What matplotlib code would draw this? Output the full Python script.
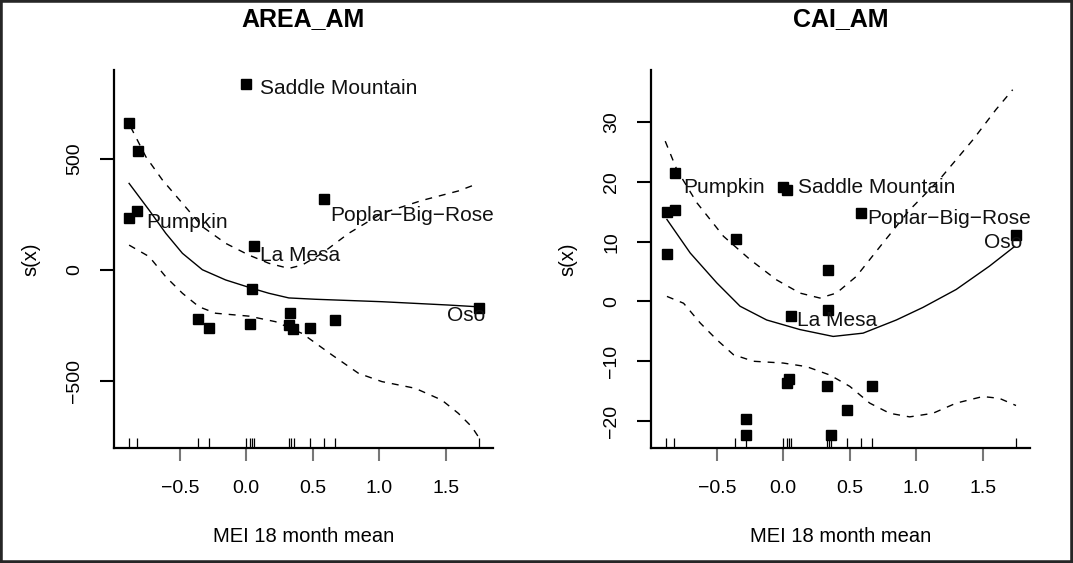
import numpy as np
import matplotlib
matplotlib.use("Agg")
import matplotlib.pyplot as plt
from matplotlib.patches import Rectangle

plt.rcParams['font.family'] = ['Liberation Sans', 'DejaVu Sans']

# rug: MEI 18 month mean of each site
mei_rug = [-0.881, -0.82, -0.363, -0.281, 0.0, 0.03, 0.045, 0.057,
           0.325, 0.34, 0.357, 0.477, 0.582, 0.665, 1.752]

# AREA_AM partial residuals
area_x = [-0.881, -0.815, -0.82, -0.88, 0.0, 0.057, 0.042, 0.027, -0.363,
          -0.28, 0.332, 0.325, 0.355, 0.477, 0.665, 0.585, 1.75]
area_y = [659, 535, 266, 231, 835, 107, -86, -246, -223,
          -264, -196, -248, -267, -261, -225, 317, -174]

# AREA_AM smooth and its confidence band
area_fit_x = [-0.881, -0.731, -0.605, -0.48, -0.33, -0.155, 0.045, 0.17,
              0.32, 0.52, 1.02, 1.52, 1.745]
area_fit_y = [389, 269, 164, 74, 0, -46, -84, -106,
              -127, -133, -144, -159, -167]
area_up_x = [-0.87, -0.755, -0.63, -0.48, -0.33, -0.155, 0.02, 0.17, 0.32,
             0.42, 0.57, 0.77, 1.02, 1.32, 1.595, 1.71]
area_up_y = [644, 509, 404, 299, 194, 119, 66, 29, 6,
             21, 74, 164, 254, 312, 355, 381]
area_lo_x = [-0.881, -0.73, -0.605, -0.48, -0.355, -0.23, 0.02, 0.22, 0.42,
             0.645, 0.845, 1.02, 1.27, 1.47, 1.595, 1.695, 1.745]
area_lo_y = [111, 59, -32, -106, -167, -196, -209, -234, -287,
             -384, -467, -504, -534, -587, -647, -707, -752]

# CAI_AM partial residuals
cai_x = [-0.875, -0.875, -0.813, -0.813, -0.358, -0.278, -0.278, -0.005, 0.03,
         0.055, 0.025, 0.042, 0.337, 0.337, 0.328, 0.355, 0.477, 0.67, 0.582, 1.75]
cai_y = [14.9, 8.0, 21.5, 15.3, 10.4, -19.6, -22.3, 19.2, 18.6,
         -2.4, -13.6, -12.9, 5.3, -1.5, -14.1, -22.3, -18.1, -14.1, 14.8, 11.1]

# CAI_AM smooth and its confidence band
cai_fit_x = [-0.875, -0.7, -0.5, -0.325, -0.125, 0.125, 0.375, 0.6,
             0.85, 1.05, 1.3, 1.55, 1.74]
cai_fit_y = [13.7, 8.1, 3.1, -0.8, -3.1, -4.7, -5.85, -5.3,
             -3.1, -1.0, 2.0, 5.9, 9.2]
cai_up_x = [-0.888, -0.8, -0.65, -0.45, -0.25, -0.05, 0.125, 0.275, 0.4,
            0.55, 0.75, 0.95, 1.175, 1.425, 1.6, 1.725]
cai_up_y = [26.8, 22.0, 16.5, 10.9, 7.0, 3.6, 1.4, 0.57, 1.4,
            4.2, 9.8, 15.3, 20.4, 27.0, 32.1, 35.4]
cai_lo_x = [-0.875, -0.75, -0.625, -0.5, -0.375, -0.225, 0.0, 0.175, 0.35,
            0.5, 0.65, 0.8, 0.95, 1.125, 1.3, 1.5, 1.625, 1.75]
cai_lo_y = [0.84, -0.3, -3.6, -6.4, -8.9, -10.0, -10.3, -10.9, -12.3,
            -14.2, -17.0, -18.7, -19.3, -18.7, -17.0, -15.9, -16.2, -17.4]

area_labels = ["Saddle Mountain", "Pumpkin", "La Mesa", "Poplar\u2212Big\u2212Rose", "Oso"]
area_lab_x = [0.107, -0.755, 0.102, 0.632, 1.508]
area_lab_y = [818, 213, 66, 246, -204]
cai_labels = ["Pumpkin", "Saddle Mountain", "Poplar\u2212Big\u2212Rose", "Oso", "La Mesa"]
cai_lab_x = [-0.75, 0.112, 0.632, 1.512, 0.1]
cai_lab_y = [19.0, 19.0, 13.8, 9.9, -3.2]

fig = plt.figure(figsize=(10.73, 5.63), dpi=100)
ax1 = fig.add_axes([0.1062, 0.2043, 0.3532, 0.6714])
ax2 = fig.add_axes([0.6067, 0.2043, 0.3532, 0.6714])


def draw_panel(ax, title, px, py, fx, fy, ux, uy, lx, ly, labs, lab_x, lab_y,
               ylim, yticks):
    ax.plot(fx, fy, color='black', lw=1.0)
    ax.plot(ux, uy, color='black', lw=1.0, dashes=(5, 5))
    ax.plot(lx, ly, color='black', lw=1.0, dashes=(5, 5))
    ax.plot(px, py, 's', color='black', ms=7)
    ax.vlines(mei_rug, 0, 0.027, transform=ax.get_xaxis_transform(),
              color='black', lw=0.9)
    for t, x, y in zip(labs, lab_x, lab_y):
        ax.text(x, y, t, fontsize=15, ha='left', va='center', color='#111111')
    ax.set_xlim(-0.995, 1.855)
    ax.set_ylim(*ylim)
    ax.set_xticks([-0.5, 0.0, 0.5, 1.0, 1.5])
    ax.set_xticklabels(["\u22120.5", "0.0", "0.5", "1.0", "1.5"])
    ax.set_yticks(yticks)
    ax.set_yticklabels([str(v).replace('-', '\u2212') for v in yticks],
                       rotation=90, va='center')
    ax.tick_params(axis='x', length=9, width=1.5, color='#777777',
                   labelsize=14, pad=14)
    ax.tick_params(axis='y', length=10, width=1.5, color='black',
                   labelsize=14, pad=12)
    for s in ['top', 'right']:
        ax.spines[s].set_visible(False)
    for s in ['left', 'bottom']:
        ax.spines[s].set_linewidth(1.6)
    ax.set_xlabel("MEI 18 month mean", fontsize=14.5, labelpad=22)
    ax.set_ylabel("s(x)", fontsize=14.5, labelpad=19)
    ax.text(0.5, 1.136, title, transform=ax.transAxes, ha='center',
            va='center', fontsize=18, fontweight='bold')


draw_panel(ax1, "AREA_AM", area_x, area_y, area_fit_x, area_fit_y,
           area_up_x, area_up_y, area_lo_x, area_lo_y,
           area_labels, area_lab_x, area_lab_y, (-803, 900), [-500, 0, 500])
draw_panel(ax2, "CAI_AM", cai_x, cai_y, cai_fit_x, cai_fit_y,
           cai_up_x, cai_up_y, cai_lo_x, cai_lo_y,
           cai_labels, cai_lab_x, cai_lab_y, (-24.5, 38.7),
           [-20, -10, 0, 10, 20, 30])

fig.patches.append(Rectangle((0, 0), 1, 1, transform=fig.transFigure,
                             fill=False, lw=4, ec='#262626'))

fig.savefig("out.png", dpi=100)
